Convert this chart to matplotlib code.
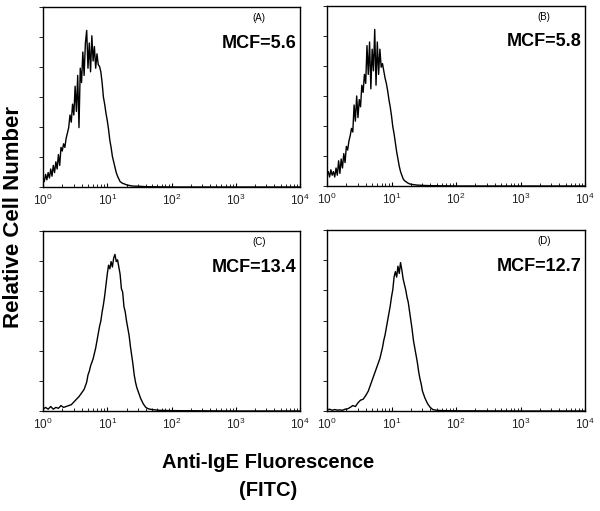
import numpy as np
import matplotlib
matplotlib.use("Agg")
import matplotlib.pyplot as plt
from matplotlib.ticker import LogLocator, LogFormatterSciNotation, NullFormatter, FixedLocator

plt.rcParams['font.family'] = ['Liberation Sans', 'DejaVu Sans']
plt.rcParams['mathtext.fontset'] = 'custom'
plt.rcParams['mathtext.rm'] = 'Liberation Sans'
plt.rcParams['mathtext.it'] = 'Liberation Sans'

# histogram traces: log10(fluorescence) -> relative height (axis top = 1)
logx_A = [0.00, 0.02, 0.04, 0.06, 0.08, 0.10, 0.12, 0.14, 0.16, 0.18, 0.20, 0.22, 0.24, 0.26,
          0.28, 0.30, 0.32, 0.34, 0.36, 0.38, 0.40, 0.42, 0.44, 0.46, 0.48, 0.50, 0.52, 0.54,
          0.56, 0.58, 0.60, 0.62, 0.64, 0.66, 0.68, 0.70, 0.72, 0.74, 0.76, 0.78, 0.80, 0.82,
          0.84, 0.86, 0.88, 0.90, 0.92, 0.94, 0.96, 0.98, 1.00, 1.02, 1.04, 1.06, 1.08, 1.10,
          1.12, 1.14, 1.16, 1.18, 1.20, 1.22, 1.24, 1.26, 1.28, 1.30, 1.35, 1.40, 1.50, 1.60,
          1.80, 2.00, 4.00]
cells_A = [0.05, 0.03, 0.07, 0.04, 0.08, 0.05, 0.10, 0.06, 0.12, 0.08, 0.14, 0.10, 0.18, 0.12,
           0.22, 0.20, 0.24, 0.22, 0.27, 0.30, 0.33, 0.40, 0.36, 0.46, 0.40, 0.56, 0.42, 0.62,
           0.33, 0.66, 0.58, 0.75, 0.62, 0.80, 0.87, 0.66, 0.80, 0.64, 0.84, 0.70, 0.78, 0.66,
           0.74, 0.68, 0.67, 0.64, 0.58, 0.50, 0.46, 0.41, 0.37, 0.32, 0.26, 0.22, 0.17, 0.14,
           0.11, 0.08, 0.06, 0.045, 0.03, 0.025, 0.02, 0.018, 0.015, 0.012, 0.008, 0.005, 0.004,
           0.002, 0.001, 0.0, 0.0]

logx_B = [0.00, 0.02, 0.04, 0.06, 0.08, 0.10, 0.12, 0.14, 0.16, 0.18, 0.20, 0.22, 0.24, 0.26,
          0.28, 0.30, 0.32, 0.34, 0.36, 0.38, 0.40, 0.42, 0.44, 0.46, 0.48, 0.50, 0.52, 0.54,
          0.56, 0.58, 0.60, 0.62, 0.64, 0.66, 0.68, 0.70, 0.72, 0.74, 0.76, 0.78, 0.80, 0.82,
          0.84, 0.86, 0.88, 0.90, 0.92, 0.94, 0.96, 0.98, 1.00, 1.02, 1.04, 1.06, 1.08, 1.10,
          1.12, 1.14, 1.16, 1.18, 1.20, 1.22, 1.24, 1.26, 1.28, 1.30, 1.35, 1.40, 1.50, 1.60,
          1.80, 2.00, 4.00]
cells_B = [0.06, 0.08, 0.05, 0.09, 0.06, 0.08, 0.05, 0.10, 0.06, 0.14, 0.07, 0.15, 0.10, 0.18,
           0.13, 0.22, 0.20, 0.25, 0.28, 0.32, 0.30, 0.45, 0.36, 0.50, 0.38, 0.48, 0.44, 0.56,
           0.52, 0.62, 0.57, 0.78, 0.62, 0.80, 0.54, 0.76, 0.64, 0.87, 0.56, 0.80, 0.62, 0.76,
           0.66, 0.68, 0.64, 0.60, 0.57, 0.53, 0.48, 0.44, 0.39, 0.33, 0.29, 0.24, 0.19, 0.15,
           0.11, 0.08, 0.06, 0.04, 0.03, 0.025, 0.02, 0.015, 0.012, 0.01, 0.007, 0.005, 0.003,
           0.002, 0.001, 0.0, 0.0]

logx_C = [0.00, 0.04, 0.08, 0.12, 0.16, 0.20, 0.24, 0.28, 0.32, 0.36, 0.40, 0.44, 0.48, 0.52,
          0.56, 0.60, 0.64, 0.66, 0.68, 0.70, 0.72, 0.74, 0.76, 0.78, 0.80, 0.82, 0.84, 0.86,
          0.88, 0.90, 0.92, 0.94, 0.96, 0.98, 1.00, 1.02, 1.04, 1.06, 1.08, 1.10, 1.12, 1.14,
          1.16, 1.18, 1.20, 1.22, 1.24, 1.26, 1.28, 1.30, 1.32, 1.34, 1.36, 1.38, 1.40, 1.42,
          1.44, 1.46, 1.48, 1.50, 1.52, 1.54, 1.56, 1.58, 1.60, 1.64, 1.70, 1.80, 2.00, 2.50,
          3.00, 4.00]
cells_C = [0.01, 0.02, 0.01, 0.025, 0.01, 0.02, 0.015, 0.03, 0.02, 0.025, 0.03, 0.035, 0.05,
           0.065, 0.08, 0.10, 0.12, 0.14, 0.16, 0.20, 0.22, 0.25, 0.27, 0.29, 0.32, 0.35, 0.39,
           0.43, 0.47, 0.50, 0.55, 0.59, 0.64, 0.70, 0.76, 0.81, 0.79, 0.83, 0.80, 0.85, 0.87,
           0.83, 0.84, 0.80, 0.76, 0.68, 0.66, 0.58, 0.55, 0.50, 0.46, 0.42, 0.36, 0.31, 0.26,
           0.20, 0.16, 0.13, 0.11, 0.09, 0.07, 0.055, 0.04, 0.03, 0.02, 0.012, 0.008, 0.004,
           0.002, 0.001, 0.0, 0.0]

logx_D = [0.00, 0.04, 0.08, 0.12, 0.16, 0.20, 0.24, 0.28, 0.32, 0.36, 0.40, 0.44, 0.48, 0.52,
          0.56, 0.60, 0.64, 0.68, 0.70, 0.72, 0.74, 0.76, 0.78, 0.80, 0.82, 0.84, 0.86, 0.88,
          0.90, 0.92, 0.94, 0.96, 0.98, 1.00, 1.02, 1.04, 1.06, 1.08, 1.10, 1.12, 1.14, 1.16,
          1.18, 1.20, 1.22, 1.24, 1.26, 1.28, 1.30, 1.32, 1.34, 1.36, 1.38, 1.40, 1.42, 1.44,
          1.46, 1.48, 1.50, 1.52, 1.54, 1.56, 1.58, 1.60, 1.64, 1.70, 1.80, 2.00, 3.00, 4.00]
cells_D = [0.005, 0.01, 0.004, 0.008, 0.005, 0.006, 0.004, 0.01, 0.012, 0.02, 0.03, 0.025,
           0.045, 0.06, 0.065, 0.085, 0.11, 0.15, 0.17, 0.19, 0.21, 0.23, 0.25, 0.27, 0.29,
           0.32, 0.35, 0.39, 0.42, 0.46, 0.50, 0.54, 0.58, 0.63, 0.67, 0.74, 0.77, 0.74, 0.80,
           0.76, 0.82, 0.78, 0.73, 0.70, 0.67, 0.63, 0.60, 0.55, 0.50, 0.45, 0.39, 0.35, 0.31,
           0.27, 0.22, 0.18, 0.15, 0.11, 0.09, 0.07, 0.055, 0.04, 0.03, 0.02, 0.008, 0.004,
           0.002, 0.001, 0.0, 0.0]

panel_tags = ["(A)", "(B)", "(C)", "(D)"]
mcf_text = ["MCF=5.6", "MCF=5.8", "MCF=13.4", "MCF=12.7"]
traces = [(logx_A, cells_A), (logx_B, cells_B), (logx_C, cells_C), (logx_D, cells_D)]

W, H = 600, 511
fig = plt.figure(figsize=(6.0, 5.11), dpi=100)

# axes boxes in pixels: x0, x1, ytop, ybottom
boxes = [(43, 300, 7, 187), (327, 585, 6, 186), (43, 300, 231, 411), (327, 585, 230, 411)]

for i, (box, (lx, cy)) in enumerate(zip(boxes, traces)):
    x0, x1, yt, yb = box
    ax = fig.add_axes([x0 / W, 1 - yb / H, (x1 - x0) / W, (yb - yt) / H])
    ax.plot(10 ** np.array(lx), cy, color='black', lw=1.0)
    ax.set_xscale('log')
    ax.set_xlim(1, 1e4)
    ax.set_ylim(0, 1)
    ax.xaxis.set_major_locator(LogLocator(base=10, numticks=10))
    ax.xaxis.set_major_formatter(LogFormatterSciNotation())
    ax.xaxis.set_minor_locator(LogLocator(base=10, subs=np.arange(2, 10), numticks=20))
    ax.xaxis.set_minor_formatter(NullFormatter())
    ax.tick_params(axis='x', which='major', direction='in', length=3, width=0.8,
                   labelsize=8.5, pad=4, labelcolor='#222222')
    ax.tick_params(axis='x', which='minor', direction='in', length=2, width=0.6)
    ax.yaxis.set_major_locator(FixedLocator(np.arange(0, 7) / 6))
    ax.tick_params(axis='y', which='major', direction='out', length=3, width=0.6,
                   labelleft=False)
    for s in ax.spines.values():
        s.set_linewidth(1.0)
    ax.text(0.84, 0.94, panel_tags[i], transform=ax.transAxes, fontsize=7,
            ha='center', va='center')
    ax.text(0.985, 0.80, mcf_text[i], transform=ax.transAxes, fontsize=13,
            fontweight='bold', ha='right', va='center')

fig.text(14 / W, 1 - 217 / H, "Relative Cell Number", rotation=90, fontsize=16,
         fontweight='bold', ha='center', va='center')
fig.text(268 / W, 1 - 462 / H, "Anti-IgE Fluorescence", fontsize=14.5,
         fontweight='bold', ha='center', va='center')
fig.text(268 / W, 1 - 490 / H, "(FITC)", fontsize=14.5,
         fontweight='bold', ha='center', va='center')

fig.savefig("out.png", dpi=100)
